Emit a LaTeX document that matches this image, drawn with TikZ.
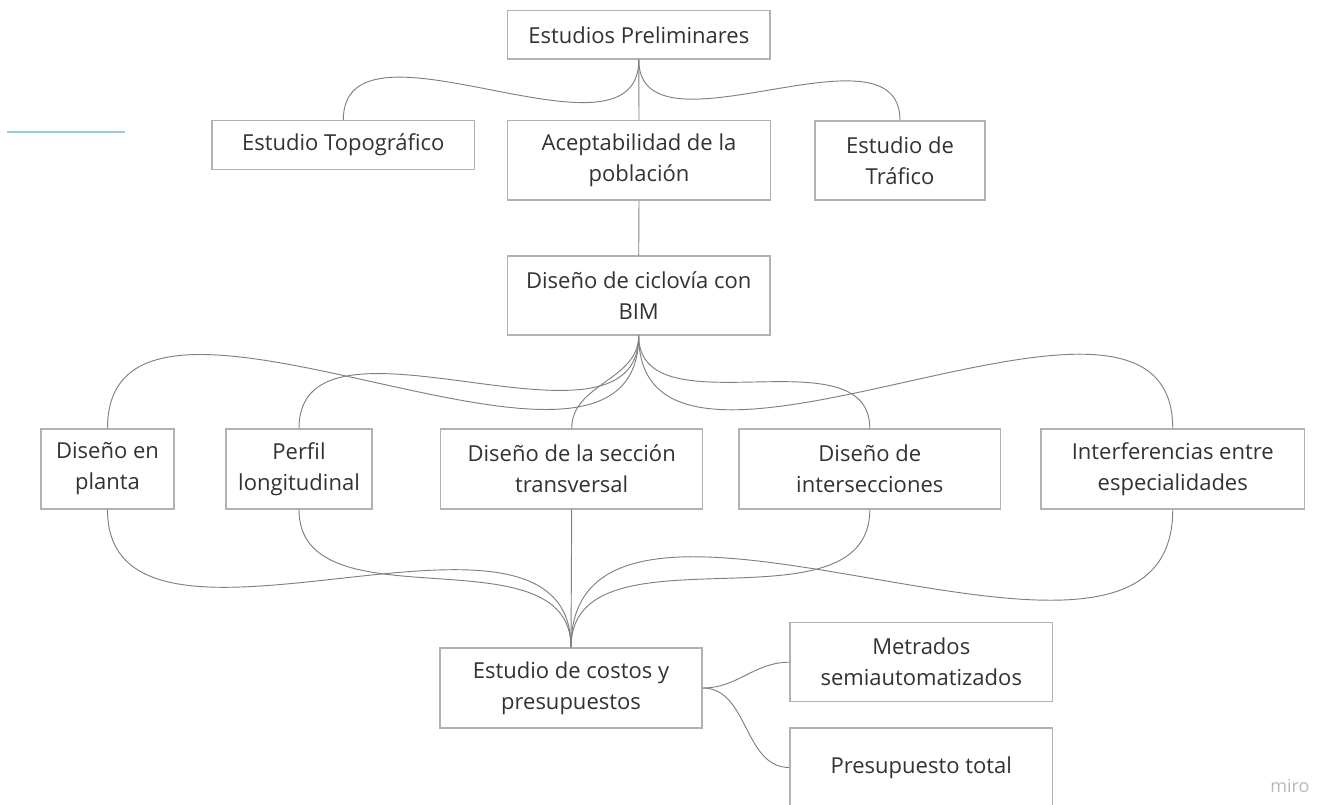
\documentclass[tikz,border=0pt]{standalone}
\usepackage{fontspec}
\setmainfont{Open Sans}
\definecolor{boxline}{RGB}{178,178,178}
\definecolor{conline}{RGB}{128,128,128}
\definecolor{txt}{RGB}{50,50,50}
\definecolor{bluel}{RGB}{150,205,215}
\definecolor{mirog}{RGB}{185,185,185}
\begin{document}
\begin{tikzpicture}[x=0.75pt,y=-0.75pt,
  box/.style={draw=boxline,line width=0.9pt,fill=white,inner sep=0pt,align=center,
    text=txt,font=\fontsize{16.5pt}{23.25pt}\selectfont},
  con/.style={draw=conline,line width=0.7pt}]
\useasboundingbox (0,0) rectangle (1323,805);
\clip (0,0) rectangle (1323,805);
\fill[white] (0,0) rectangle (1323,805);
% nodes
\node[box,minimum width=262.4pt*0.75,minimum height=48.3pt*0.75] (pre) at (638.8,34.9) {Estudios Preliminares};
\node[box,minimum width=262.6pt*0.75,minimum height=48.6pt*0.75] (topo) at (343.3,145) {Estudio Topográfico};
\node[box,minimum width=263pt*0.75,minimum height=79.3pt*0.75] (acep) at (639,160.4) {Aceptabilidad de la\\población};
\node[box,minimum width=170pt*0.75,minimum height=79pt*0.75] (traf) at (900,160.5) {Estudio de\\Tráfico};
\node[box,minimum width=262.7pt*0.75,minimum height=79pt*0.75] (cic) at (638.7,295.5) {Diseño de ciclovía con\\BIM};
\node[box,minimum width=133pt*0.75,minimum height=80pt*0.75] (planta) at (107.5,469) {Diseño en\\planta};
\node[box,minimum width=146pt*0.75,minimum height=80pt*0.75] (perfil) at (299,469) {Perfil\\longitudinal};
\node[box,minimum width=262pt*0.75,minimum height=80pt*0.75] (secc) at (571.7,469) {Diseño de la sección\\transversal};
\node[box,minimum width=261.6pt*0.75,minimum height=80pt*0.75] (inter) at (869.8,469) {Diseño de\\intersecciones};
\node[box,minimum width=263.5pt*0.75,minimum height=80pt*0.75] (interf) at (1172.75,469) {Interferencias entre\\especialidades};
\node[box,minimum width=262pt*0.75,minimum height=80pt*0.75] (costos) at (571,688) {Estudio de costos y\\presupuestos};
\node[box,minimum width=262.5pt*0.75,minimum height=79pt*0.75] (metr) at (921.25,662.2) {Metrados\\semiautomatizados};
\node[box,minimum width=262.5pt*0.75,minimum height=79pt*0.75] (pres) at (921.25,767.5) {Presupuesto total};
% connectors
\draw[con] (pre.south) -- (acep.north);
\draw[con] (pre.south) to[out=-90,in=90] (topo.north);
\draw[con] (pre.south) to[out=-90,in=90] (traf.north);
\draw[con] (acep.south) -- (cic.north);
\foreach \n in {planta,perfil,secc,inter,interf}{
  \draw[con] (cic.south) to[out=-90,in=90] (\n.north);
}
\foreach \n in {planta,perfil,inter,interf}{
  \draw[con] (\n.south) to[out=-90,in=90] (costos.north);
}
\draw[con] (secc.south) -- (costos.north);
\draw[con] (costos.east) to[out=0,in=180] (metr.west);
\draw[con] (costos.east) to[out=0,in=180] (pres.west);
% decorations
\draw[bluel,line width=0.9pt] (7,132) -- (125,132);
\node[text=mirog,font=\fontsize{13.5pt}{16pt}\selectfont,inner sep=0pt] (miro) at (1290,786) {miro};
\end{tikzpicture}
\end{document}
